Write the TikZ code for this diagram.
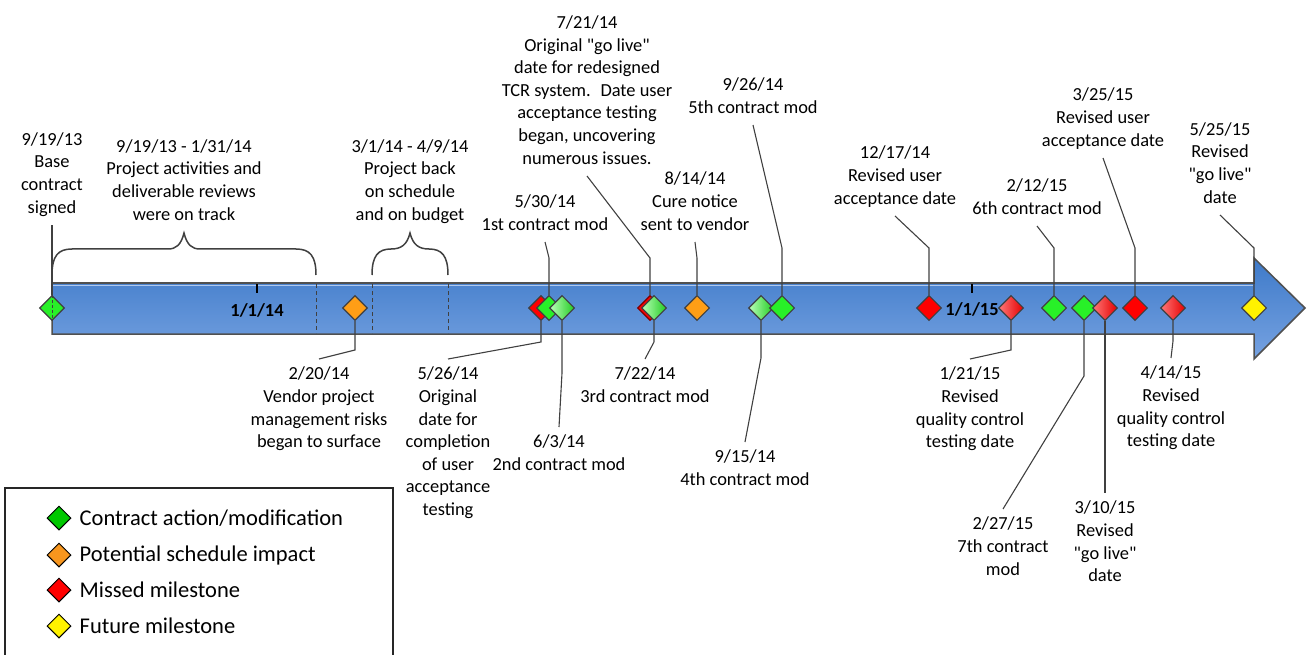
\documentclass[tikz,border=0pt]{standalone}
\usepackage{fontspec}
\setmainfont{Carlito}
\usetikzlibrary{shapes.geometric,positioning}
\definecolor{barTop}{RGB}{62,122,201}
\definecolor{barBot}{RGB}{118,162,225}
\definecolor{barEdge}{RGB}{80,80,80}
\definecolor{barGlow}{RGB}{175,200,238}
\definecolor{inkGray}{RGB}{64,64,64}
\definecolor{mkGreen}{RGB}{40,240,40}
\definecolor{mkLight}{RGB}{185,255,185}
\definecolor{mkOrange}{RGB}{255,158,22}
\definecolor{mkRedLt}{RGB}{255,120,120}
\definecolor{keyGreen}{RGB}{0,200,0}
\definecolor{keyOrange}{RGB}{247,150,30}
\newcommand\lblfont{\fontsize{18.4}{22.6}\selectfont}
\newcommand\keyfont{\fontsize{22.5}{27}\selectfont}
\newcommand\golive{\textquotedbl go live\textquotedbl}

\begin{document}
\begin{tikzpicture}[x=1pt, y=-1pt,
      every node/.append style={align=center},
      lbl/.style={font=\lblfont, inner xsep=0pt, execute at begin node=\strut, execute at end node=\strut},
      lblup/.style={lbl, anchor=south, inner ysep=5pt},
      lbldn/.style={lbl, anchor=north, inner ysep=8pt},
      callout/.style={draw=inkGray, line width=1.1pt},
      brace/.style={draw=inkGray, line width=1.5pt},
      mk/.style={diamond, draw=inkGray, line width=1.1pt, minimum size=25pt, inner sep=0pt},
      gmk/.style={mk, fill=mkGreen},
      lgmk/.style={mk, left color=mkLight, right color=mkGreen!85!black},
      omk/.style={mk, fill=mkOrange},
      rmk/.style={mk, fill=red},
      lrmk/.style={mk, left color=mkRedLt, right color=red!90!black},
      ymk/.style={mk, fill=yellow},
      keymk/.style={diamond, draw=black, line width=1pt, minimum size=24pt, inner sep=0pt},
      keytxt/.style={font=\keyfont, inner sep=0pt, anchor=west, right=8pt of #1}]
    \useasboundingbox (0,0) rectangle (1307,655);

    \draw[barEdge, line width=1.5pt, top color=barTop, bottom color=barBot]
      (52,283) -- (1254,283) -- (1254,258) -- (1305,308) -- (1254,359) -- (1254,334) -- (52,334) -- cycle;
    \draw[barGlow, line width=1.2pt] (53,285.5) -- (1253,285.5);
    \draw[inkGray, line width=1pt, dash pattern=on 4pt off 3pt] (316,284) -- (316,333) (372,284) -- (372,333) (448,284) -- (448,333);
    \draw[black, line width=2pt] (257,284) -- (257,293) (972,284) -- (972,293);
    \node[font=\lblfont\bfseries, anchor=base] (t14) at (257,316.5) {1/1/14};
    \node[font=\lblfont\bfseries, anchor=base] (t15) at (972,316) {1/1/15};

    \draw[brace] (52,275) .. controls (52,256) and (58,249) .. (72,249) -- (168,249)
      .. controls (176,249) and (181,245) .. (184,233) .. controls (187,245) and (192,249) .. (200,249)
      -- (296,249) .. controls (310,249) and (316,256) .. (316,275);
    \draw[brace] (372,275) .. controls (372,256) and (378,249) .. (391,249)
      .. controls (401,249) and (407,245) .. (410,233) .. controls (413,245) and (419,249) .. (429,249)
      .. controls (442,249) and (448,256) .. (448,275);

    \node[gmk] (d0919) at (52,308) {};
    \node[omk] (d0220) at (355,308) {};
    \node[rmk] (d0526) at (541,308) {};
    \node[gmk] (d0530) at (549,308) {};
    \node[lgmk] (d0603) at (562,308) {};
    \node[rmk, draw=red!50!black] (d0721) at (650,308) {};
    \node[lgmk] (d0722) at (654,308) {};
    \node[omk] (d0814) at (697,308) {};
    \node[lgmk] (d0915) at (761,308) {};
    \node[gmk] (d0926) at (782,308) {};
    \node[rmk] (d1217) at (929,308) {};
    \node[lrmk] (d0121) at (1011,308) {};
    \node[gmk] (d0212) at (1054,308) {};
    \node[gmk] (d0227) at (1084,308) {};
    \node[lrmk] (d0310) at (1105,308) {};
    \node[rmk] (d0325) at (1135,308) {};
    \node[lrmk] (d0414) at (1173,308) {};
    \node[ymk] (d0525) at (1254,308) {};
    \draw[inkGray, line width=1pt, dash pattern=on 3pt off 2pt] (d0919.north) -- (d0919.south);

    \node[lblup] (l0919) at (52,225) {9/19/13\\Base\\contract\\signed};
    \node[lblup] (lspan1) at (184,232) {9/19/13 - 1/31/14\\Project activities and\\deliverable reviews\\were on track};
    \node[lblup] (lspan2) at (410,232) {3/1/14 - 4/9/14\\Project back\\on schedule\\and on budget};
    \node[lblup] (l0530) at (545,242) {5/30/14\\1st contract mod};
    \node[lblup] (l0721) at (587,176) {7/21/14\\Original \golive\\date for redesigned\\TCR system.~ Date user\\acceptance testing\\began, uncovering\\numerous issues.};
    \node[lblup] (l0814) at (695,242) {8/14/14\\Cure notice\\sent to vendor};
    \node[lblup] (l0926) at (753,125) {9/26/14\\5th contract mod};
    \node[lblup] (l1217) at (895,216) {12/17/14\\Revised user\\acceptance date};
    \node[lblup] (l0212) at (1037,226) {2/12/15\\6th contract mod};
    \node[lblup] (l0325) at (1103,158) {3/25/15\\Revised user\\acceptance date};
    \node[lblup] (l0525) at (1220,215) {5/25/15\\Revised\\\golive\\date};

    \node[lbldn] (l0220) at (319,359) {2/20/14\\Vendor project\\management risks\\began to surface};
    \node[lbldn] (l0526) at (448,359) {5/26/14\\Original\\date for\\completion\\of user\\acceptance\\testing};
    \node[lbldn] (l0603) at (559,427) {6/3/14\\2nd contract mod};
    \node[lbldn] (l0722) at (645,359) {7/22/14\\3rd contract mod};
    \node[lbldn] (l0915) at (745,442) {9/15/14\\4th contract mod};
    \node[lbldn] (l0121) at (970,359) {1/21/15\\Revised\\quality control\\testing date};
    \node[lbldn] (l0227) at (1003,509) {2/27/15\\7th contract\\mod};
    \node[lbldn] (l0310) at (1105,493) {3/10/15\\Revised\\\golive\\date};
    \node[lbldn] (l0414) at (1171,358) {4/14/15\\Revised\\quality control\\testing date};

    \coordinate (b0530) at (549,258);
    \coordinate (b0721) at (650,258);
    \coordinate (b0814) at (697,258);
    \coordinate (b0926) at (782,248);
    \coordinate (b1217) at (929,248);
    \coordinate (b0212) at (1054,248);
    \coordinate (b0325) at (1135,248);
    \coordinate (b0525) at (1254,248);
    \coordinate (b0220) at (355,350);
    \coordinate (b0526) at (541,342);
    \coordinate (b0603) at (562,373);
    \coordinate (b0722) at (654,342);
    \coordinate (b0915) at (761,358);
    \coordinate (b0121) at (1011,350);
    \coordinate (b0227) at (1084,376);
    \coordinate (b0414) at (1173,341);

    \draw[callout] (d0919.north) -- (l0919.south);
    \draw[callout] (d0530.north) -- (b0530) -- (l0530.south);
    \draw[callout] (d0721.north) -- (b0721) -- (l0721.south);
    \draw[callout] (d0814.north) -- (b0814) -- (l0814.south);
    \draw[callout] (d0926.north) -- (b0926) -- (l0926.south);
    \draw[callout] (d1217.north) -- (b1217) -- (l1217.south);
    \draw[callout] (d0212.north) -- (b0212) -- (l0212.south);
    \draw[callout] (d0325.north) -- (b0325) -- (l0325.south);
    \draw[callout] (d0525.north) -- (b0525) -- (l0525.south);
    \draw[callout] (d0220.south) -- (b0220) -- (l0220.north);
    \draw[callout] (d0526.south) -- (b0526) -- (l0526.north);
    \draw[callout] (d0603.south) -- (b0603) -- (l0603.north);
    \draw[callout] (d0722.south) -- (b0722) -- (l0722.north);
    \draw[callout] (d0915.south) -- (b0915) -- (l0915.north);
    \draw[callout] (d0121.south) -- (b0121) -- (l0121.north);
    \draw[callout] (d0227.south) -- (b0227) -- (l0227.north);
    \draw[callout] (d0310.south) -- (l0310.north);
    \draw[callout] (d0414.south) -- (b0414) -- (l0414.north);

    \draw[black!85, line width=1.5pt] (5,670) -- (5,488) -- (393,488) -- (393,670);
    \node[keymk, fill=keyGreen] (kd1) at (59,518) {};
    \node[keymk, fill=keyOrange] (kd2) at (59,555) {};
    \node[keymk, fill=red] (kd3) at (59,590) {};
    \node[keymk, fill=yellow] (kd4) at (59,626) {};
    \node[keytxt=kd1] (k1) {Contract action/modification};
    \node[keytxt=kd2] (k2) {Potential schedule impact};
    \node[keytxt=kd3] (k3) {Missed milestone};
    \node[keytxt=kd4] (k4) {Future milestone};
  \end{tikzpicture}
\end{document}
